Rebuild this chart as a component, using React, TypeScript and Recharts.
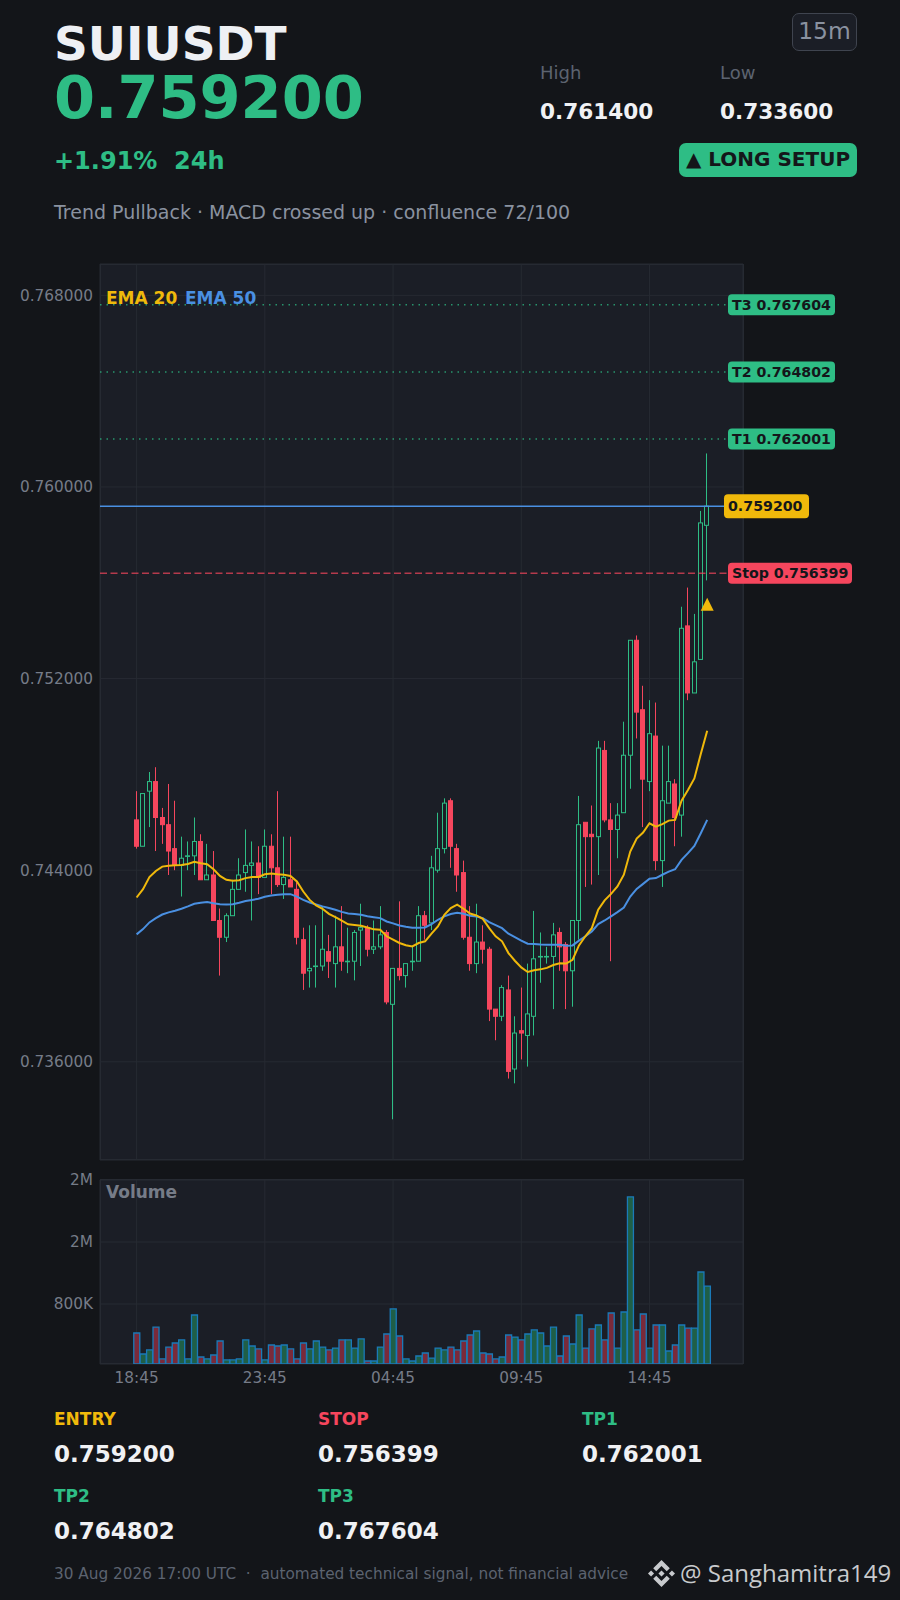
import React from 'react'
import { Bar, CartesianGrid, Cell, ComposedChart, Line, ReferenceDot, ReferenceLine, XAxis, YAxis } from 'recharts'

const times = [
  '18:45','19:00','19:15','19:30','19:45','20:00','20:15','20:30','20:45','21:00',
  '21:15','21:30','21:45','22:00','22:15','22:30','22:45','23:00','23:15','23:30',
  '23:45','00:00','00:15','00:30','00:45','01:00','01:15','01:30','01:45','02:00',
  '02:15','02:30','02:45','03:00','03:15','03:30','03:45','04:00','04:15','04:30',
  '04:45','05:00','05:15','05:30','05:45','06:00','06:15','06:30','06:45','07:00',
  '07:15','07:30','07:45','08:00','08:15','08:30','08:45','09:00','09:15','09:30',
  '09:45','10:00','10:15','10:30','10:45','11:00','11:15','11:30','11:45','12:00',
  '12:15','12:30','12:45','13:00','13:15','13:30','13:45','14:00','14:15','14:30',
  '14:45','15:00','15:15','15:30','15:45','16:00','16:15','16:30','16:45','17:00',
]

const opens = [
  .7461,.7450,.7473,.7477,.7462,.7459,.7449,.7442,.7446,.7446,
  .7452,.7436,.7438,.7419,.7412,.7421,.7432,.7439,.7442,.7443,
  .7437,.7450,.7441,.7434,.7436,.7432,.7411,.7398,.7400,.7400,
  .7406,.7401,.7408,.7402,.7402,.7415,.7416,.7407,.7408,.7414,
  .7384,.7399,.7396,.7402,.7402,.7421,.7418,.7440,.7449,.7469,
  .7449,.7439,.7412,.7401,.7410,.7407,.7382,.7379,.7390,.7357,
  .7373,.7371,.7379,.7404,.7404,.7404,.7414,.7409,.7398,.7419,
  .7460,.7455,.7454,.7490,.7461,.7457,.7464,.7488,.7536,.7507,
  .7477,.7496,.7444,.7468,.7476,.7463,.7542,.7514,.7528,.7584,
]
const highs = [
  .7473,.7472,.7481,.7483,.7466,.7476,.7469,.7454,.7452,.7462,
  .7455,.7451,.7448,.7424,.7422,.7436,.7445,.7457,.7452,.7450,
  .7457,.7455,.7473,.7454,.7454,.7435,.7416,.7417,.7417,.7425,
  .7413,.7421,.7425,.7416,.7415,.7426,.7417,.7419,.7425,.7415,
  .7399,.7427,.7401,.7408,.7425,.7423,.7446,.7464,.7470,.7470,
  .7451,.7444,.7425,.7426,.7417,.7408,.7382,.7392,.7396,.7379,
  .7391,.7401,.7423,.7414,.7408,.7418,.7416,.7410,.7419,.7471,
  .7460,.7467,.7494,.7494,.7468,.7468,.7502,.7536,.7538,.7517,
  .7511,.7510,.7492,.7492,.7478,.7550,.7558,.7547,.7590,.7614,
]
const lows = [
  .7449,.7450,.7458,.7448,.7451,.7438,.7440,.7429,.7440,.7438,
  .7436,.7436,.7419,.7396,.7410,.7421,.7432,.7431,.7419,.7430,
  .7437,.7430,.7433,.7428,.7433,.7409,.7390,.7391,.7391,.7398,
  .7395,.7391,.7398,.7397,.7394,.7400,.7404,.7405,.7407,.7384,
  .7336,.7394,.7391,.7398,.7402,.7411,.7415,.7439,.7447,.7441,
  .7431,.7411,.7398,.7397,.7401,.7377,.7369,.7377,.7353,.7351,
  .7361,.7358,.7371,.7393,.7401,.7382,.7398,.7382,.7383,.7411,
  .7433,.7434,.7438,.7460,.7402,.7445,.7464,.7474,.7495,.7458,
  .7473,.7440,.7433,.7468,.7450,.7454,.7511,.7514,.7528,.7561,
]
const closes = [
  .7450,.7472,.7477,.7462,.7459,.7448,.7442,.7445,.7446,.7452,
  .7436,.7438,.7419,.7412,.7421,.7432,.7438,.7442,.7443,.7437,
  .7450,.7441,.7434,.7437,.7433,.7412,.7397,.7399,.7400,.7407,
  .7402,.7408,.7402,.7402,.7414,.7416,.7407,.7408,.7413,.7385,
  .7399,.7396,.7401,.7402,.7421,.7417,.7441,.7449,.7468,.7450,
  .7438,.7412,.7401,.7410,.7407,.7382,.7379,.7391,.7356,.7372,
  .7372,.7380,.7403,.7404,.7404,.7413,.7408,.7398,.7419,.7459,
  .7454,.7454,.7491,.7461,.7457,.7463,.7488,.7536,.7506,.7478,
  .7497,.7444,.7469,.7477,.7462,.7541,.7514,.7527,.7585,.7592,
]
const ema20 = [
  .74286,.74321,.74371,.74397,.74415,.74419,.74421,.74422,.74426,.74435,
  .74429,.74425,.74404,.74376,.74360,.74356,.74358,.74367,.74372,.74372,
  .74383,.74386,.74383,.74381,.74376,.74353,.74311,.74276,.74253,.74239,
  .74218,.74204,.74189,.74174,.74171,.74168,.74161,.74153,.74151,.74124,
  .74110,.74096,.74087,.74082,.74096,.74103,.74135,.74165,.74214,.74242,
  .74256,.74239,.74219,.74211,.74197,.74158,.74124,.74103,.74054,.74022,
  .73994,.73975,.73982,.73986,.73992,.74004,.74011,.74010,.74026,.74086,
  .74124,.74158,.74235,.74274,.74301,.74332,.74381,.74478,.74532,.74557,
  .74596,.74582,.74592,.74607,.74610,.74690,.74735,.74783,.74885,.74982,
]
const ema50 = [
  .74132,.74154,.74182,.74200,.74215,.74224,.74231,.74239,.74249,.74260,
  .74264,.74267,.74262,.74258,.74257,.74258,.74264,.74271,.74276,.74281,
  .74289,.74294,.74297,.74300,.74300,.74290,.74276,.74265,.74257,.74249,
  .74242,.74235,.74226,.74219,.74217,.74214,.74208,.74204,.74200,.74186,
  .74178,.74169,.74164,.74160,.74160,.74161,.74175,.74193,.74207,.74217,
  .74222,.74218,.74210,.74207,.74200,.74183,.74171,.74158,.74135,.74121,
  .74106,.74093,.74092,.74090,.74089,.74089,.74089,.74085,.74086,.74106,
  .74124,.74144,.74175,.74190,.74207,.74225,.74244,.74290,.74322,.74343,
  .74364,.74367,.74381,.74394,.74404,.74443,.74471,.74501,.74554,.74610,
]
const volumes = [
  426000,155000,207000,503000,91000,245000,297000,336000,91000,658000,
  116000,91000,142000,323000,78000,78000,91000,336000,258000,220000,
  78000,271000,258000,271000,220000,91000,297000,220000,323000,245000,
  207000,232000,336000,336000,232000,349000,65000,65000,245000,413000,
  736000,387000,91000,65000,129000,168000,103000,232000,207000,245000,
  207000,323000,400000,452000,168000,155000,91000,116000,400000,374000,
  336000,413000,465000,426000,258000,503000,129000,387000,284000,658000,
  232000,478000,529000,336000,684000,232000,697000,2181000,465000,671000,
  232000,529000,529000,194000,271000,529000,490000,490000,1213000,1032000,
]

const priceTicks = [0.736, 0.744, 0.752, 0.76, 0.768]
const volumeTicks = [800000, 1600000, 2400000]
const targets = [
  { name: 'T1', value: 0.762001 },
  { name: 'T2', value: 0.764802 },
  { name: 'T3', value: 0.767604 },
]
const lastPrice = 0.7592
const stopPrice = 0.756399
const signalPrice = 0.7551

const candles = times.map((time, i) => ({
  time,
  open: opens[i],
  high: highs[i],
  low: lows[i],
  close: closes[i],
  ema20: ema20[i],
  ema50: ema50[i],
  volume: volumes[i],
}))

const BG = '#131519'
const PANEL = '#1b1e26'
const GRID = '#262a32'
const GREEN = '#2ebd85'
const RED = '#f6465d'
const YELLOW = '#f0b90b'
const BLUE = '#4a90e2'
const MUTED = '#8a92a0'
const AXIS = '#767c88'
const DIM = '#5c6370'
const FONT = '"DejaVu Sans", sans-serif'

const Candle = (props: any) => {
  const { x, y, width, height, payload } = props
  const up = payload.close >= payload.open
  const color = up ? GREEN : RED
  // snap to the pixel grid so the wicks stay crisp
  const cx = Math.floor(x + width / 2) + 0.5
  const perPrice = height / (payload.high - payload.low)
  const top = y + (payload.high - Math.max(payload.open, payload.close)) * perPrice
  const bottom = y + (payload.high - Math.min(payload.open, payload.close)) * perPrice
  return (
    <g>
      <line x1={cx} x2={cx} y1={y} y2={y + height} stroke={color} strokeWidth={1} />
      <rect
        x={cx - 2}
        y={top}
        width={4}
        height={Math.max(bottom - top, 0.6)}
        fill={up ? PANEL : color}
        stroke={color}
        strokeWidth={1}
      />
    </g>
  )
}

const Pill = ({ viewBox, text, bg, left, w, h = 21 }: any) => {
  const cy = viewBox.y
  return (
    <g>
      <rect x={left} y={cy - h / 2} width={w} height={h} rx={4} fill={bg} />
      <text
        x={left + 4}
        y={cy + 5}
        fontFamily={FONT}
        fontWeight={700}
        fontSize={14.2}
        fill="#14161a"
      >
        {text}
      </text>
    </g>
  )
}

const Signal = ({ cx, cy }: any) => (
  <polygon points={`${cx},${cy - 6.5} ${cx + 6.5},${cy + 6.5} ${cx - 6.5},${cy + 6.5}`} fill={YELLOW} />
)

const formatVolume = (v: number) => (v >= 1000000 ? `${(v / 1000000).toFixed(0)}M` : `${(v / 1000).toFixed(0)}K`)

const T = ({ x, y, size, color, bold, children }: any) => (
  <div
    style={{
      position: 'absolute',
      left: x,
      top: y,
      fontSize: size,
      color,
      fontWeight: bold ? 700 : 400,
      lineHeight: 1,
      whiteSpace: 'pre',
    }}
  >
    {children}
  </div>
)

const Level = ({ x, y, label, value, color }: any) => (
  <>
    <T x={x} y={y} size={17} color={color} bold>{label}</T>
    <T x={x} y={y + 32} size={23} color="#f0f1f4" bold>{value}</T>
  </>
)

export default function App() {
  return (
    <div style={{ position: 'absolute', left: 0, top: 0, width: 900, height: 1600, background: BG, fontFamily: FONT, overflow: 'hidden' }}>
      <T x={54} y={20} size={47} color="#eef0f4" bold>SUIUSDT</T>
      <T x={54} y={68} size={59} color={GREEN} bold>0.759200</T>
      <T x={54} y={149} size={24} color={GREEN} bold>{'+1.91%  24h'}</T>
      <T x={54} y={203} size={19} color={MUTED}>Trend Pullback · MACD crossed up · confluence 72/100</T>

      <T x={540} y={64} size={18} color={DIM}>High</T>
      <T x={540} y={101} size={21.6} color="#f0f1f4" bold>0.761400</T>
      <T x={720} y={64} size={18} color={DIM}>Low</T>
      <T x={720} y={101} size={21.6} color="#f0f1f4" bold>0.733600</T>

      <div style={{ position: 'absolute', left: 792, top: 13, width: 65, height: 38, boxSizing: 'border-box', border: '1px solid #3f444f', borderRadius: 7, background: PANEL, color: MUTED, fontSize: 23.4, lineHeight: '34px', textAlign: 'center' }}>15m</div>
      <div style={{ position: 'absolute', left: 679, top: 143, width: 178, height: 34, borderRadius: 7, background: GREEN, color: '#14161a', fontSize: 20, fontWeight: 700, lineHeight: '32px', textAlign: 'center', whiteSpace: 'pre' }}>▲ LONG SETUP</div>

      <div style={{ position: 'absolute', left: 100, top: 264, width: 644, height: 896, boxSizing: 'border-box', background: PANEL, border: `1px solid ${GRID}` }} />
      <div style={{ position: 'absolute', left: 100, top: 1179, width: 644, height: 185, boxSizing: 'border-box', background: PANEL, border: `1px solid ${GRID}` }} />

      <div style={{ position: 'absolute', left: 0, top: 0 }}>
        <ComposedChart width={900} height={1170} data={candles} margin={{ top: 264, right: 157, bottom: 10, left: 0 }} barCategoryGap={0}>
          <CartesianGrid stroke={GRID} />
          <XAxis dataKey="time" hide interval={19} padding={{ left: 33.4, right: 32.6 }} />
          <YAxis
            width={100}
            domain={[0.7319, 0.76931]}
            ticks={priceTicks}
            allowDataOverflow
            tickLine={false}
            axisLine={false}
            tickMargin={1}
            tick={{ fill: AXIS, fontSize: 15.3, fontFamily: FONT }}
            tickFormatter={(v: number) => v.toFixed(6)}
          />
          {targets.map(t => (
            <ReferenceLine
              key={t.name}
              y={t.value}
              stroke={GREEN}
              strokeOpacity={0.75}
              strokeWidth={1.5}
              strokeDasharray="1.5 5"
              label={<Pill text={`${t.name} ${t.value.toFixed(6)}`} bg={GREEN} left={728} w={107} />}
            />
          ))}
          <ReferenceLine y={lastPrice} stroke={BLUE} strokeWidth={1.5} label={<Pill text={lastPrice.toFixed(6)} bg={YELLOW} left={724} w={85} h={24} />} />
          <ReferenceLine y={stopPrice} stroke={RED} strokeOpacity={0.7} strokeWidth={1.5} strokeDasharray="7 3.5" label={<Pill text={`Stop ${stopPrice.toFixed(6)}`} bg={RED} left={728} w={124} />} />
          <Bar dataKey={(d: any) => [d.low, d.high]} shape={<Candle />} isAnimationActive={false} />
          <Line dataKey="ema50" stroke={BLUE} strokeWidth={2} dot={false} isAnimationActive={false} />
          <Line dataKey="ema20" stroke={YELLOW} strokeWidth={2} dot={false} isAnimationActive={false} />
          <ReferenceDot x={times[89]} y={signalPrice} shape={<Signal />} />
        </ComposedChart>
      </div>

      <div style={{ position: 'absolute', left: 0, top: 1170 }}>
        <ComposedChart width={900} height={220} data={candles} margin={{ top: 10, right: 157, bottom: 0, left: 0 }} barCategoryGap="6%">
          <CartesianGrid stroke={GRID} />
          <XAxis
            dataKey="time"
            interval={19}
            padding={{ left: 33.4, right: 32.6 }}
            height={26}
            tickLine={false}
            axisLine={false}
            tick={{ fill: AXIS, fontSize: 15.3, fontFamily: FONT }}
          />
          <YAxis
            width={100}
            domain={[26000, 2400000]}
            ticks={volumeTicks}
            allowDataOverflow
            tickLine={false}
            axisLine={false}
            tickMargin={1}
            tick={{ fill: AXIS, fontSize: 15.3, fontFamily: FONT }}
            tickFormatter={formatVolume}
          />
          <Bar dataKey="volume" stroke="#1a7ab8" strokeWidth={1.3} isAnimationActive={false}>
            {candles.map((c, i) => (
              <Cell key={i} fill={c.close >= c.open ? '#1f5f47' : '#7a2a3a'} />
            ))}
          </Bar>
        </ComposedChart>
      </div>

      <T x={106} y={290} size={17} color={YELLOW} bold>EMA 20</T>
      <T x={185} y={290} size={17} color={BLUE} bold>EMA 50</T>
      <T x={106} y={1184} size={17} color={AXIS} bold>Volume</T>

      <Level x={54} y={1411} label="ENTRY" value="0.759200" color={YELLOW} />
      <Level x={318} y={1411} label="STOP" value="0.756399" color={RED} />
      <Level x={582} y={1411} label="TP1" value="0.762001" color={GREEN} />
      <Level x={54} y={1488} label="TP2" value="0.764802" color={GREEN} />
      <Level x={318} y={1488} label="TP3" value="0.767604" color={GREEN} />

      <T x={54} y={1567} size={15.3} color={DIM}>30 Aug 2026 17:00 UTC  ·  automated technical signal, not financial advice</T>
      <svg style={{ position: 'absolute', left: 648, top: 1560 }} width={27} height={27} viewBox="0 0 126.61 126.61">
        <g fill="#c8cacd">
          <path d="M38.73 53.2l24.59-24.58 24.6 24.6 14.3-14.31L63.32 0 24.42 38.9l14.31 14.3z" />
          <path d="M0 63.31l14.3-14.31 14.31 14.31-14.31 14.3z" />
          <path d="M38.73 73.41l24.59 24.59 24.6-24.6 14.31 14.29-38.9 38.91-38.91-38.88-.02-.02z" />
          <path d="M98 63.31l14.3-14.31 14.31 14.3-14.31 14.32z" />
          <path d="M77.83 63.3L63.32 48.78 52.59 59.51l-1.24 1.23-2.54 2.54 14.51 14.52 14.51-14.5z" />
        </g>
      </svg>
      <div style={{ position: 'absolute', left: 680, top: 1558, fontFamily: '"Open Sans", sans-serif', fontSize: 24, lineHeight: '30px', color: '#c8cacd', whiteSpace: 'pre' }}>@ Sanghamitra149</div>
    </div>
  )
}
